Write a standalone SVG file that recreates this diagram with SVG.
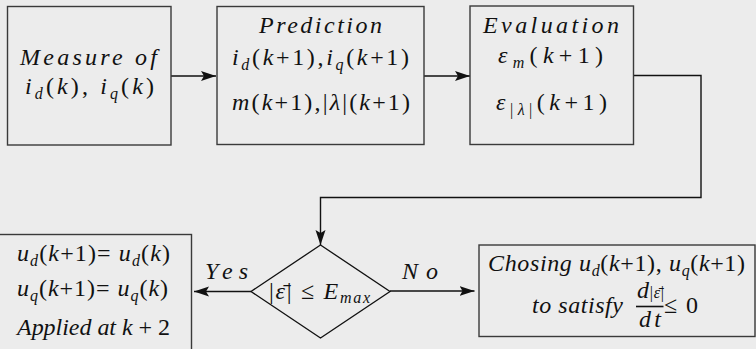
<svg xmlns="http://www.w3.org/2000/svg" width="756" height="349" viewBox="0 0 756 349" font-family="Liberation Serif, serif">
<defs>
<style>
.bg{fill:#ececec}
.box{fill:#ececec;stroke:#3a3a3a;stroke-width:1.4}
.dia{fill:#ececec;stroke:#111;stroke-width:1.3}
.ln{fill:none;stroke:#111;stroke-width:1.4}
.t{font-family:"Liberation Serif","DejaVu Serif",serif;font-size:24px;font-style:italic;fill:#111}
.r{font-style:normal}
.s{font-size:16px}
</style>
<marker id="ah" markerUnits="userSpaceOnUse" markerWidth="16" markerHeight="12" refX="15" refY="6" orient="auto">
<path d="M0,1 L15,6 L0,11 L3,6 Z" fill="#111"/>
</marker>
</defs>
<rect class="bg" x="0" y="0" width="756" height="349"/>

<g id="connectors">
<line class="ln" x1="171" y1="76" x2="216" y2="76" marker-end="url(#ah)"/>
<line class="ln" x1="424" y1="76" x2="470" y2="76" marker-end="url(#ah)"/>
<polyline class="ln" points="633,75.5 701,75.5 701,197.5 320.5,197.5 320.5,245" marker-end="url(#ah)"/>
<line class="ln" x1="251" y1="291.5" x2="194" y2="291.5" marker-end="url(#ah)"/>
<line class="ln" x1="390" y1="291" x2="474.5" y2="291" marker-end="url(#ah)"/>
<text class="t" x="205" y="279" textLength="43" lengthAdjust="spacing">Yes</text>
<text class="t" x="402" y="279" textLength="36" lengthAdjust="spacing">No</text>
</g>

<g id="measure">
<rect class="box" x="7.5" y="6.5" width="163.5" height="138.5"/>
<text class="t" x="20" y="65" textLength="137" lengthAdjust="spacing">Measure of</text>
<text class="t" x="25" y="94" textLength="129" lengthAdjust="spacing">i<tspan class="s" dy="5">d</tspan><tspan class="r" dy="-5">(</tspan>k<tspan class="r">),  </tspan>i<tspan class="s" dy="5">q</tspan><tspan class="r" dy="-5">(</tspan>k<tspan class="r">)</tspan></text>
</g>

<g id="prediction">
<rect class="box" x="217" y="6.5" width="207" height="138"/>
<text class="t" x="259" y="33" textLength="123" lengthAdjust="spacing">Prediction</text>
<text class="t" x="232" y="65" textLength="177" lengthAdjust="spacing">i<tspan class="s" dy="5">d</tspan><tspan class="r" dy="-5">(</tspan>k<tspan class="r">+1),</tspan>i<tspan class="s" dy="5">q</tspan><tspan class="r" dy="-5">(</tspan>k<tspan class="r">+1)</tspan></text>
<text class="t" x="232" y="110" textLength="178" lengthAdjust="spacing">m<tspan class="r">(</tspan>k<tspan class="r">+1),|</tspan>λ<tspan class="r">|(</tspan>k<tspan class="r">+1)</tspan></text>
</g>

<g id="evaluation">
<rect class="box" x="470" y="6" width="163.5" height="138.5"/>
<text class="t" x="483" y="33" textLength="136" lengthAdjust="spacing">Evaluation</text>
<text class="t" x="498" y="63" textLength="105" lengthAdjust="spacing">ε<tspan class="s" dy="5">m</tspan><tspan class="r" dy="-5">(</tspan>k<tspan class="r">+1)</tspan></text>
<text class="t" x="496" y="110" textLength="111" lengthAdjust="spacing">ε<tspan class="s r" dy="5">|</tspan><tspan class="s">λ</tspan><tspan class="s r">|</tspan><tspan class="r" dy="-5">(</tspan>k<tspan class="r">+1)</tspan></text>
</g>

<g id="decision">
<polygon class="dia" points="320.5,245 390,291.5 320.5,338 251,291.5"/>
<text class="t" x="269" y="299" textLength="101" lengthAdjust="spacing"><tspan class="r">|</tspan>ε̄<tspan class="r">| ≤ </tspan>E<tspan class="s" dy="4">max</tspan></text>
</g>

<g id="keep">
<rect class="box" x="-2" y="234.5" width="193.5" height="120"/>
<text class="t" x="17" y="261" textLength="153" lengthAdjust="spacing">u<tspan class="s" dy="5">d</tspan><tspan class="r" dy="-5">(</tspan>k<tspan class="r">+1)= </tspan>u<tspan class="s" dy="5">d</tspan><tspan class="r" dy="-5">(</tspan>k<tspan class="r">)</tspan></text>
<text class="t" x="17" y="296" textLength="151" lengthAdjust="spacing">u<tspan class="s" dy="5">q</tspan><tspan class="r" dy="-5">(</tspan>k<tspan class="r">+1)= </tspan>u<tspan class="s" dy="5">q</tspan><tspan class="r" dy="-5">(</tspan>k<tspan class="r">)</tspan></text>
<text class="t" x="17" y="335" textLength="153" lengthAdjust="spacing">Applied at k <tspan class="r">+ 2</tspan></text>
</g>

<g id="choose">
<rect class="box" x="479" y="245" width="276" height="91.5"/>
<text class="t" x="488" y="271" textLength="257" lengthAdjust="spacing">Chosing u<tspan class="s" dy="5">d</tspan><tspan class="r" dy="-5">(</tspan>k<tspan class="r">+1), </tspan>u<tspan class="s" dy="5">q</tspan><tspan class="r" dy="-5">(</tspan>k<tspan class="r">+1)</tspan></text>
<text class="t" x="532" y="313" textLength="91" lengthAdjust="spacing">to satisfy</text>
<text class="t" x="637" y="298" textLength="27" lengthAdjust="spacing">d<tspan class="r s">|</tspan><tspan class="s">ε̄</tspan><tspan class="r s">|</tspan></text>
<line x1="636" y1="306.5" x2="663.5" y2="306.5" stroke="#111" stroke-width="1.6"/>
<text class="t" x="639" y="327" textLength="22" lengthAdjust="spacing">dt</text>
<text class="t r" x="664" y="313" textLength="34" lengthAdjust="spacing">≤ 0</text>
</g>
</svg>
